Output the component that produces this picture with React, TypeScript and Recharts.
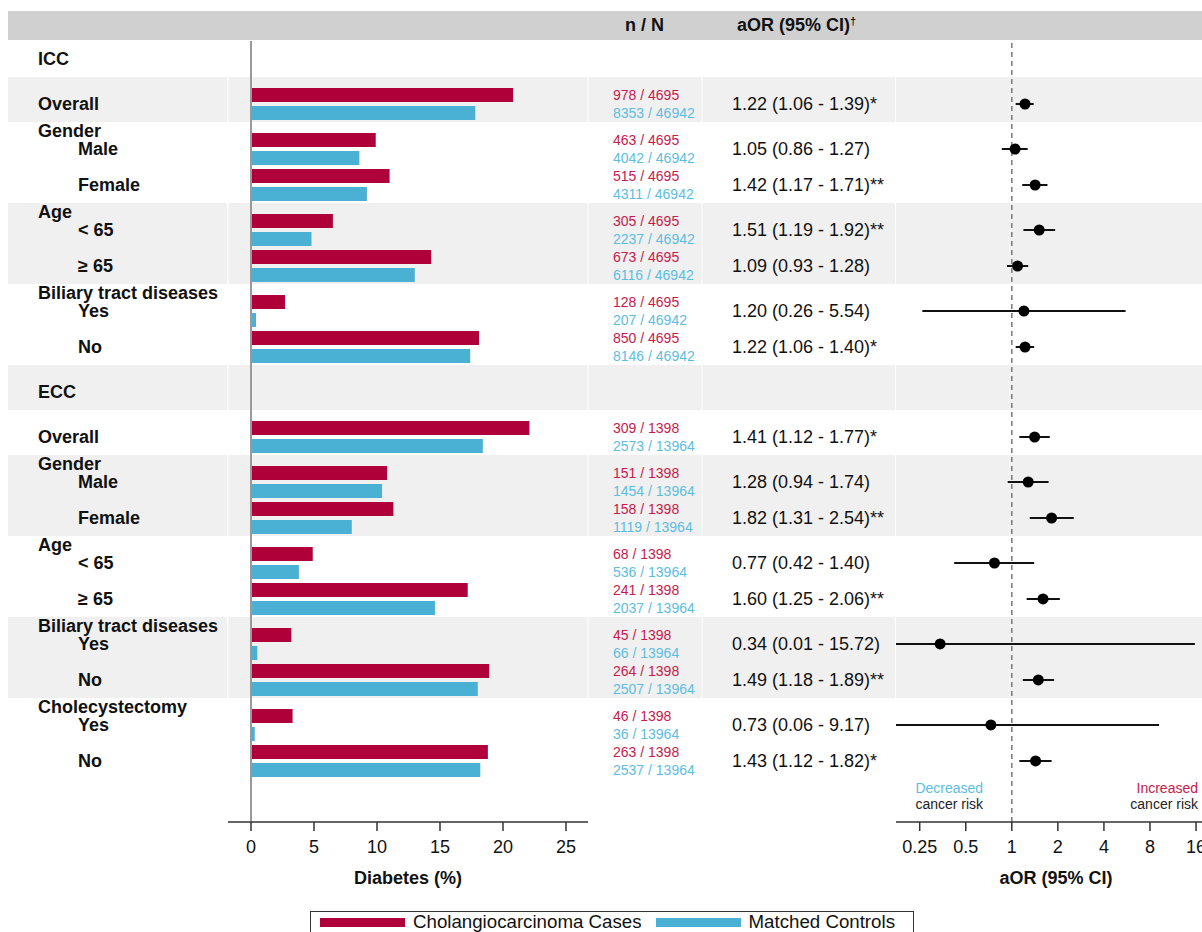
import React from 'react';
import {
  ComposedChart,
  Bar,
  Scatter,
  ErrorBar,
  XAxis,
  YAxis,
  ReferenceArea,
  ReferenceLine,
  ReferenceDot,
  Legend,
  Label,
} from 'recharts';

const FONT = '"Liberation Sans", Arial, Helvetica, sans-serif';

// ---------------- data ----------------
const sectionNames = ['ICC', 'ECC'];
const sectionCaseTotals = [4695, 1398];
const sectionControlTotals = [46942, 13964];

const itemSection = [0, 0, 0, 0, 0, 0, 0, 1, 1, 1, 1, 1, 1, 1, 1, 1];
const itemGroup = [
  '', 'Gender', 'Gender', 'Age', 'Age', 'Biliary tract diseases', 'Biliary tract diseases',
  '', 'Gender', 'Gender', 'Age', 'Age', 'Biliary tract diseases', 'Biliary tract diseases',
  'Cholecystectomy', 'Cholecystectomy',
];
const itemLabels = [
  'Overall', 'Male', 'Female', '< 65', '≥ 65', 'Yes', 'No',
  'Overall', 'Male', 'Female', '< 65', '≥ 65', 'Yes', 'No', 'Yes', 'No',
];
const caseCounts = [978, 463, 515, 305, 673, 128, 850, 309, 151, 158, 68, 241, 45, 264, 46, 263];
const controlCounts = [8353, 4042, 4311, 2237, 6116, 207, 8146, 2573, 1454, 1119, 536, 2037, 66, 2507, 36, 2537];
const casePct = [20.8, 9.9, 11.0, 6.5, 14.3, 2.7, 18.1, 22.1, 10.8, 11.3, 4.9, 17.2, 3.2, 18.9, 3.3, 18.8];
const controlPct = [17.8, 8.6, 9.2, 4.8, 13.0, 0.4, 17.4, 18.4, 10.4, 8.0, 3.8, 14.6, 0.5, 18.0, 0.3, 18.2];
const aorValues = [1.22, 1.05, 1.42, 1.51, 1.09, 1.2, 1.22, 1.41, 1.28, 1.82, 0.77, 1.6, 0.34, 1.49, 0.73, 1.43];
const ciLower = [1.06, 0.86, 1.17, 1.19, 0.93, 0.26, 1.06, 1.12, 0.94, 1.31, 0.42, 1.25, 0.01, 1.18, 0.06, 1.12];
const ciUpper = [1.39, 1.27, 1.71, 1.92, 1.28, 5.54, 1.4, 1.77, 1.74, 2.54, 1.4, 2.06, 15.72, 1.89, 9.17, 1.82];
const significance = ['*', '', '**', '**', '', '', '*', '*', '', '**', '', '**', '', '**', '', '*'];
const diabetesTicks = [0, 5, 10, 15, 20, 25];
const aorTicks = [0.25, 0.5, 1, 2, 4, 8, 16];
const seriesNames = ['Cholangiocarcinoma Cases', 'Matched Controls'];

// ---------------- styles / geometry ----------------
const CASE_COLOR = '#B0003A';
const CONTROL_COLOR = '#4BB1D4';
const CASE_TEXT = '#C8194C';
const CONTROL_TEXT = '#5DBDE0';
const BAND = '#F0F0F0';
const HEADER = '#D0D0D0';

const PAGE_W = 1202;
const PAGE_H = 932;
const PLOT_TOP = 41;
const PLOT_BOTTOM = 822;
const X_AXIS_H = 62;
const Y_MIN = -7;
const Y_MAX = 79.78;
const A_W = 588;
const A_LABEL_W = 228;
const A_X_MIN = -1.825;
const A_X_MAX = 26.746;
const B_LEFT = 588;
const B_W = PAGE_W - B_LEFT;
const B_TEXT_W = 308;
const B_MIN = 0.175;
const B_MAX = 17.5;
const MARGIN = { top: PLOT_TOP, right: 0, bottom: PAGE_H - PLOT_BOTTOM - X_AXIS_H, left: 0 };

// page pixel -> axis value (used only to stretch row bands beyond the plot area)
const aVal = (px: number) => A_X_MIN + ((px - A_LABEL_W) * (A_X_MAX - A_X_MIN)) / (A_W - A_LABEL_W);
const bVal = (px: number) =>
  B_MIN * Math.pow(B_MAX / B_MIN, (px - (B_LEFT + B_TEXT_W)) / (B_W - B_TEXT_W));

// ---------------- row layout (in row units) ----------------
type LabelRow = { pos: number; text: string; indent: boolean };
const rows: any[] = [];
const labelRows: LabelRow[] = [];
const bands: [number, number][] = [];
{
  let p = -5;
  let bandStart = -7;
  let prevSection = -1;
  let prevBlock: string | null = null;
  itemLabels.forEach((label, i) => {
    const s = itemSection[i];
    const g = itemGroup[i];
    const block = g || `#${i}`;
    if (s !== prevSection) {
      if (prevSection >= 0) {
        bands.push([bandStart, p + 2]);
        bandStart = p + 2;
        p += 5;
      }
      labelRows.push({ pos: p, text: sectionNames[s], indent: false });
      bands.push([bandStart, p + 2]);
      bandStart = p + 2;
      p += 5;
      if (g) labelRows.push({ pos: p - 2, text: g, indent: false });
      prevSection = s;
    } else if (block !== prevBlock) {
      bands.push([bandStart, p + 2]);
      bandStart = p + 2;
      p += 5;
      if (g) labelRows.push({ pos: p - 2, text: g, indent: false });
    } else {
      p += 4;
    }
    prevBlock = block;
    labelRows.push({ pos: p, text: label, indent: !!g });
    const aor = aorValues[i];
    // the CI whisker is drawn only inside the forest plot's axis range (clipped like the reference)
    const lo = Math.max(ciLower[i], B_MIN);
    const hi = Math.min(ciUpper[i], B_MAX);
    rows.push({
      pos: p,
      casePct: casePct[i],
      controlPct: controlPct[i],
      aor,
      ciErr: [aor - lo, hi - aor],
      caseText: `${caseCounts[i]} / ${sectionCaseTotals[s]}`,
      controlText: `${controlCounts[i]} / ${sectionControlTotals[s]}`,
      aorText: `${aor.toFixed(2)} (${ciLower[i].toFixed(2)} - ${ciUpper[i].toFixed(2)})${significance[i]}`,
    });
  });
  bands.push([bandStart, p + 2]);
}
const grayBands = bands.filter((_, i) => i % 2 === 1);
const labelByPos = new Map(labelRows.map((l) => [l.pos, l]));
const rowByPos = new Map(rows.map((r) => [r.pos, r]));

// ---------------- renderers ----------------
function RowLabelTick(props: any) {
  const { y, payload } = props;
  const l = labelByPos.get(payload.value);
  if (!l) return <g />;
  return (
    <text x={l.indent ? 78 : 38} y={y} dy="0.36em" fontSize={18} fontWeight="bold" fill="#111" fontFamily={FONT}>
      {l.text}
    </text>
  );
}

function StatsTick(props: any) {
  const { y, payload } = props;
  const r = rowByPos.get(payload.value);
  if (!r) return <g />;
  return (
    <g fontFamily={FONT}>
      <text x={25} y={y - 9} dy="0.36em" fontSize={14} fill={CASE_TEXT}>{r.caseText}</text>
      <text x={25} y={y + 9} dy="0.36em" fontSize={14} fill={CONTROL_TEXT}>{r.controlText}</text>
      <text x={144} y={y} dy="0.36em" fontSize={18} fill="#111">{r.aorText}</text>
    </g>
  );
}

const OrDot = (props: any) => <circle cx={props.cx} cy={props.cy} r={5.5} fill="#000" />;

const riskLabel = (anchor: 'middle' | 'end', topText: string, topColor: string, dx: number) => (props: any) => {
  const vb = props.viewBox || {};
  const x = (vb.x ?? 0) + (vb.width ?? 0) / 2 + dx;
  const y = (vb.y ?? 0) + (vb.height ?? 0) / 2;
  return (
    <g fontFamily={FONT} fontSize={14}>
      <text x={x} y={y} dy="0.36em" textAnchor={anchor} fill={topColor}>{topText}</text>
      <text x={x} y={y + 16} dy="0.36em" textAnchor={anchor} fill="#222">cancer risk</text>
    </g>
  );
};

function LegendBox(props: any) {
  const payload = props.payload || [];
  return (
    <div
      style={{
        border: '1px solid #333',
        height: 22,
        width: 604,
        boxSizing: 'border-box',
        display: 'flex',
        alignItems: 'center',
        paddingLeft: 9,
        fontFamily: FONT,
        fontSize: 18.7,
        color: '#111',
        background: '#fff',
      }}
    >
      {payload.map((p: any, i: number) => (
        <div key={i} style={{ display: 'flex', alignItems: 'center', marginRight: 14 }}>
          <span style={{ display: 'inline-block', width: 85, height: 9, background: p.color }} />
          <span style={{ marginLeft: 8, lineHeight: '20px', whiteSpace: 'nowrap' }}>{p.value}</span>
        </div>
      ))}
    </div>
  );
}

const axisStroke = { stroke: '#333', strokeWidth: 1.5 };

export default function App() {
  return (
    <div
      style={{
        position: 'fixed',
        left: 0,
        top: 0,
        width: PAGE_W,
        height: PAGE_H,
        overflow: 'hidden',
        background: '#fff',
        fontFamily: FONT,
      }}
    >
      {/* header row of the table */}
      <div
        style={{
          position: 'absolute',
          left: 8,
          top: 11,
          width: PAGE_W - 8,
          height: 29,
          background: HEADER,
          fontWeight: 'bold',
          fontSize: 18,
          lineHeight: '29px',
          color: '#111',
        }}
      >
        <span style={{ position: 'absolute', left: 617 }}>n / N</span>
        <span style={{ position: 'absolute', left: 729 }}>
          aOR (95% CI)<sup style={{ fontSize: 11, verticalAlign: 'top', lineHeight: '20px' }}>†</sup>
        </span>
      </div>

      {/* left panel: labels + diabetes bars */}
      <div style={{ position: 'absolute', left: 0, top: 0 }}>
        <ComposedChart layout="vertical" width={A_W} height={PAGE_H} data={rows} margin={MARGIN} barGap={4}>
          {grayBands.map(([a, b], i) => (
            <ReferenceArea
              key={`la${i}`}
              y1={a}
              y2={b}
              x1={aVal(8)}
              x2={aVal(227)}
              fill={BAND}
              fillOpacity={1}
              stroke="none"
              ifOverflow="visible"
            />
          ))}
          {grayBands.map(([a, b], i) => (
            <ReferenceArea
              key={`pa${i}`}
              y1={a}
              y2={b}
              x1={aVal(228.5)}
              x2={aVal(587.5)}
              fill={BAND}
              fillOpacity={1}
              stroke="none"
              ifOverflow="visible"
            />
          ))}
          <XAxis
            type="number"
            domain={[A_X_MIN, A_X_MAX]}
            allowDataOverflow
            ticks={diabetesTicks}
            interval={0}
            height={X_AXIS_H}
            tickSize={9}
            tickMargin={9}
            axisLine={axisStroke}
            tickLine={axisStroke}
            tick={{ fill: '#111', fontSize: 18 }}
          >
            <Label
              value="Diabetes (%)"
              position="insideBottom"
              offset={0}
              style={{ fontWeight: 'bold', fontSize: 18, fill: '#111' }}
            />
          </XAxis>
          <YAxis
            type="number"
            dataKey="pos"
            domain={[Y_MIN, Y_MAX]}
            allowDataOverflow
            width={A_LABEL_W}
            ticks={labelRows.map((l) => l.pos)}
            interval={0}
            axisLine={false}
            tickLine={false}
            tick={RowLabelTick}
          />
          <ReferenceLine x={0} stroke="#9A9A9A" strokeWidth={2} />
          <Bar dataKey="casePct" name={seriesNames[0]} fill={CASE_COLOR} barSize={14} isAnimationActive={false} />
          <Bar dataKey="controlPct" name={seriesNames[1]} fill={CONTROL_COLOR} barSize={14} isAnimationActive={false} />
          <Legend
            layout="horizontal"
            verticalAlign="middle"
            align="center"
            wrapperStyle={{ left: 310, top: 911, width: 604, height: 22 }}
            content={LegendBox}
          />
        </ComposedChart>
      </div>

      {/* right panel: n/N, aOR text and forest plot */}
      <div style={{ position: 'absolute', left: B_LEFT, top: 0 }}>
        <ComposedChart width={B_W} height={PAGE_H} data={rows} margin={MARGIN}>
          {grayBands.map(([a, b], i) => (
            <ReferenceArea
              key={`c1${i}`}
              y1={a}
              y2={b}
              x1={bVal(588.5)}
              x2={bVal(701.5)}
              fill={BAND}
              fillOpacity={1}
              stroke="none"
              ifOverflow="visible"
            />
          ))}
          {grayBands.map(([a, b], i) => (
            <ReferenceArea
              key={`c2${i}`}
              y1={a}
              y2={b}
              x1={bVal(702.5)}
              x2={bVal(895.2)}
              fill={BAND}
              fillOpacity={1}
              stroke="none"
              ifOverflow="visible"
            />
          ))}
          {grayBands.map(([a, b], i) => (
            <ReferenceArea
              key={`c3${i}`}
              y1={a}
              y2={b}
              x1={B_MIN}
              x2={B_MAX}
              fill={BAND}
              fillOpacity={1}
              stroke="none"
              ifOverflow="visible"
            />
          ))}
          <XAxis
            type="number"
            dataKey="aor"
            scale="log"
            domain={[B_MIN, B_MAX]}
            allowDataOverflow
            ticks={aorTicks}
            interval={0}
            height={X_AXIS_H}
            tickSize={9}
            tickMargin={9}
            axisLine={axisStroke}
            tickLine={axisStroke}
            tick={{ fill: '#111', fontSize: 18 }}
          >
            <Label
              value="aOR (95% CI)"
              position="insideBottom"
              offset={0}
              dx={7}
              style={{ fontWeight: 'bold', fontSize: 18, fill: '#111' }}
            />
          </XAxis>
          <YAxis
            type="number"
            dataKey="pos"
            domain={[Y_MIN, Y_MAX]}
            allowDataOverflow
            reversed
            width={B_TEXT_W}
            ticks={rows.map((r) => r.pos)}
            interval={0}
            axisLine={false}
            tickLine={false}
            tick={StatsTick}
          />
          <ReferenceLine x={1} stroke="#777" strokeDasharray="5 4" strokeWidth={1.5} />
          <Scatter name="aOR" fill="#000" shape={OrDot} isAnimationActive={false}>
            <ErrorBar dataKey="ciErr" direction="x" width={0} stroke="#111" strokeWidth={2} isAnimationActive={false} />
          </Scatter>
          <ReferenceDot x={0.39} y={76} r={0} ifOverflow="visible">
            <Label content={riskLabel('middle', 'Decreased', CONTROL_TEXT, 0)} />
          </ReferenceDot>
          <ReferenceDot x={B_MAX} y={76} r={0} ifOverflow="visible">
            <Label content={riskLabel('end', 'Increased', CASE_TEXT, -4)} />
          </ReferenceDot>
        </ComposedChart>
      </div>
    </div>
  );
}
